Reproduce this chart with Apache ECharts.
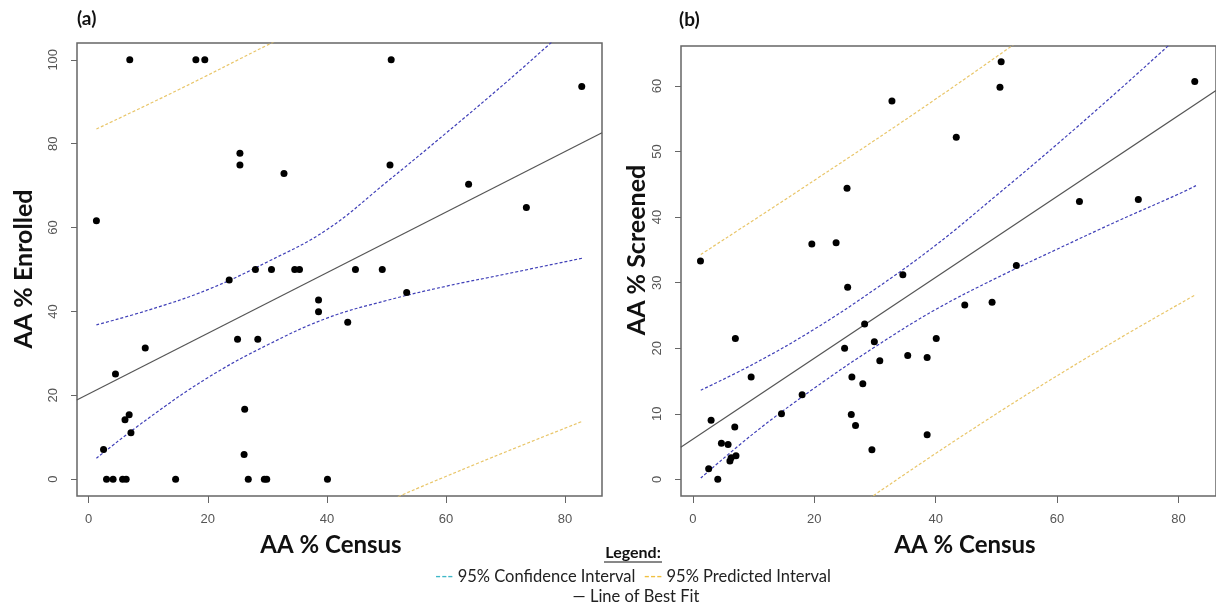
<!DOCTYPE html>
<html>
<head>
<meta charset="utf-8">
<title>AA % Enrolled / Screened vs Census</title>
<script src="https://cdn.jsdelivr.net/npm/echarts@6/dist/echarts.min.js"></script>
<style>
  html, body { margin: 0; padding: 0; background: #fff; }
  #chart { width: 1216px; height: 607px; }
</style>
</head>
<body>
<div id="chart"></div>
<script>
// (a) AA % Census vs AA % Enrolled
var enrolledPts = [
  [1.3, 61.6], [6.9, 100], [18.0, 100], [19.5, 100], [25.4, 77.7], [25.4, 74.9],
  [32.8, 72.9], [50.8, 100], [82.8, 93.6], [50.6, 74.9], [63.8, 70.3], [73.5, 64.8],
  [23.6, 47.5], [28.0, 50], [30.7, 50], [34.6, 50], [35.4, 50], [44.8, 50], [49.3, 50],
  [38.6, 42.7], [38.6, 39.9], [4.5, 25.1], [9.5, 31.3], [25.0, 33.4], [28.4, 33.4],
  [6.1, 14.2], [6.8, 15.4], [7.1, 11.1], [2.5, 7.1], [26.2, 16.7], [26.1, 5.9],
  [3.0, 0], [4.1, 0], [5.7, 0], [6.3, 0], [14.6, 0], [26.8, 0], [29.5, 0], [29.9, 0],
  [43.5, 37.4], [53.4, 44.5], [40.1, 0]
];
var enrolledFit = [[-2, 18.9], [86.2, 82.6]];
var enrolledCiUp = [[1.3, 36.8], [10, 40.3], [20, 45.2], [30, 51.8], [40, 59.5], [50, 70.8], [60, 82.5], [70, 94.5], [80, 107.0], [82.9, 110.5]];
var enrolledCiLo = [[1.3, 5.0], [10, 14.5], [20, 24.2], [30, 32.0], [40, 38.4], [50, 42.6], [60, 46.0], [70, 48.9], [82.9, 52.7]];
var enrolledPiUp = [[1.3, 83.5], [15, 92.8], [30, 103.5], [40, 110.5]];
var enrolledPiLo = [[45, -8.5], [55, -2.3], [70, 6.5], [82.9, 13.8]];

// (b) AA % Census vs AA % Screened
var screenedPts = [
  [1.25, 33.3], [32.8, 57.7], [25.4, 44.4], [19.6, 35.9], [23.6, 36.1], [34.6, 31.2],
  [50.8, 63.7], [50.6, 59.8], [43.4, 52.2], [82.7, 60.7], [63.7, 42.4], [73.4, 42.7],
  [53.3, 32.6], [25.5, 29.3], [7.0, 21.5], [25.0, 20.0], [29.9, 21.0], [30.8, 18.1],
  [35.4, 18.9], [28.3, 23.7], [9.6, 15.6], [26.2, 15.6], [28.0, 14.6], [18.0, 12.9],
  [14.6, 10.0], [26.1, 9.9], [26.8, 8.2], [3.0, 9.0], [6.9, 8.0], [4.7, 5.5],
  [5.8, 5.3], [6.1, 2.8], [6.3, 3.3], [7.1, 3.6], [29.5, 4.5], [2.6, 1.6], [4.1, 0],
  [44.8, 26.6], [49.3, 27.0], [40.1, 21.5], [38.6, 18.6], [38.6, 6.8]
];
var screenedFit = [[-2, 4.9], [86.2, 59.3]];
var screenedCiUp = [[1.3, 13.6], [10, 17.6], [20, 22.9], [30, 29.0], [40, 35.7], [50, 43.3], [60, 51.1], [70, 59.2], [80, 67.5], [82.9, 69.8]];
var screenedCiLo = [[1.3, 0.2], [10, 7.0], [20, 13.9], [30, 20.2], [40, 25.9], [50, 30.7], [60, 35.1], [70, 39.4], [80, 43.5], [82.9, 44.8]];
var screenedPiUp = [[1.3, 34.3], [20, 45.6], [40, 58.0], [60, 71.0]];
var screenedPiLo = [[25, -5.5], [45, 7.0], [65, 18.6], [82.9, 28.2]];

var xTicks = [0, 20, 40, 60, 80];
var enrolledTicks = [0, 20, 40, 60, 80, 100];
var screenedTicks = [0, 10, 20, 30, 40, 50, 60];

var ciColor = '#4040b8';
var piColor = '#e9c66a';
var fitColor = '#555555';
var labelFont = 'Liberation Sans';
var titleFont = 'Lato';

function xAxisDef(gi) {
  return {
    type: 'value', gridIndex: gi, min: -1.96, max: 86.2, position: 'bottom',
    axisLine: { show: false, onZero: false },
    splitLine: { show: false },
    axisTick: { show: true, inside: false, customValues: xTicks, length: 7, lineStyle: { color: '#666' } },
    axisLabel: { customValues: xTicks, margin: 17, color: '#555', fontSize: 13, fontFamily: labelFont }
  };
}
function yAxisDef(gi, min, max, ticks) {
  return {
    type: 'value', gridIndex: gi, min: min, max: max, position: 'left',
    axisLine: { show: false, onZero: false },
    splitLine: { show: false },
    axisTick: { show: true, inside: false, customValues: ticks, length: 6, lineStyle: { color: '#666' } },
    axisLabel: { customValues: ticks, rotate: 90, align: 'center', verticalAlign: 'bottom',
      margin: 17, color: '#555', fontSize: 13, fontFamily: labelFont }
  };
}
function lineDef(gi, data, color, dashed) {
  return {
    type: 'line', xAxisIndex: gi, yAxisIndex: gi, data: data, smooth: 0.4,
    showSymbol: false, clip: true, silent: true, z: 1,
    lineStyle: { color: color, width: 1.2, type: dashed ? [3, 2] : 'solid' }
  };
}
function scatterDef(gi, data) {
  return {
    type: 'scatter', xAxisIndex: gi, yAxisIndex: gi, data: data, symbolSize: 7,
    itemStyle: { color: '#000', opacity: 1 }, z: 3
  };
}

var chart = echarts.init(document.getElementById('chart'), null, { renderer: 'canvas' });
chart.setOption({
  animation: false,
  backgroundColor: '#fff',
  grid: [
    { left: 77, top: 43, width: 525, height: 453, show: true, borderColor: '#666', borderWidth: 1.5, backgroundColor: 'transparent' },
    { left: 681, top: 46, width: 542, height: 450, show: true, borderColor: '#666', borderWidth: 1.5, backgroundColor: 'transparent' }
  ],
  xAxis: [xAxisDef(0), xAxisDef(1)],
  yAxis: [yAxisDef(0, -4, 104, enrolledTicks), yAxisDef(1, -2.54, 66.1, screenedTicks)],
  series: [
    lineDef(0, enrolledFit, fitColor, false),
    lineDef(0, enrolledCiUp, ciColor, true),
    lineDef(0, enrolledCiLo, ciColor, true),
    lineDef(0, enrolledPiUp, piColor, true),
    lineDef(0, enrolledPiLo, piColor, true),
    scatterDef(0, enrolledPts),
    lineDef(1, screenedFit, fitColor, false),
    lineDef(1, screenedCiUp, ciColor, true),
    lineDef(1, screenedCiLo, ciColor, true),
    lineDef(1, screenedPiUp, piColor, true),
    lineDef(1, screenedPiLo, piColor, true),
    scatterDef(1, screenedPts)
  ],
  graphic: [
    { type: 'text', left: 77, top: 9, style: { text: '(a)', font: 'bold 19px ' + titleFont, fill: '#111' } },
    { type: 'text', left: 679, top: 10, style: { text: '(b)', font: 'bold 19px ' + titleFont, fill: '#111' } },
    { type: 'text', x: 24, y: 269, rotation: Math.PI / 2,
      style: { text: 'AA % Enrolled', font: 'bold 25px ' + titleFont, fill: '#111', align: 'center', verticalAlign: 'middle' } },
    { type: 'text', x: 637, y: 250, rotation: Math.PI / 2,
      style: { text: 'AA % Screened', font: 'bold 25px ' + titleFont, fill: '#111', align: 'center', verticalAlign: 'middle' } },
    { type: 'text', x: 331, y: 545,
      style: { text: 'AA % Census', font: 'bold 24px ' + titleFont, fill: '#111', align: 'center', verticalAlign: 'middle' } },
    { type: 'text', x: 965, y: 545,
      style: { text: 'AA % Census', font: 'bold 24px ' + titleFont, fill: '#111', align: 'center', verticalAlign: 'middle' } },
    { type: 'text', x: 633, y: 553,
      style: { text: 'Legend:', font: 'bold 16px ' + titleFont, fill: '#111', align: 'center', verticalAlign: 'middle' } },
    { type: 'line', shape: { x1: 604, y1: 562, x2: 662, y2: 562 }, style: { stroke: '#111', lineWidth: 1 } },
    { type: 'text', x: 633, y: 577,
      style: {
        text: '{c|---} 95% Confidence Interval  {p|---} 95% Predicted Interval',
        font: '16.5px ' + titleFont, fill: '#222', align: 'center', verticalAlign: 'middle',
        rich: { c: { fill: '#3fb8c8', fontSize: 16.5, fontFamily: titleFont }, p: { fill: '#f0c040', fontSize: 16.5, fontFamily: titleFont } }
      } },
    { type: 'text', x: 636, y: 597,
      style: { text: '— Line of Best Fit', font: '16.5px ' + titleFont, fill: '#222', align: 'center', verticalAlign: 'middle' } }
  ]
});
</script>
</body>
</html>
